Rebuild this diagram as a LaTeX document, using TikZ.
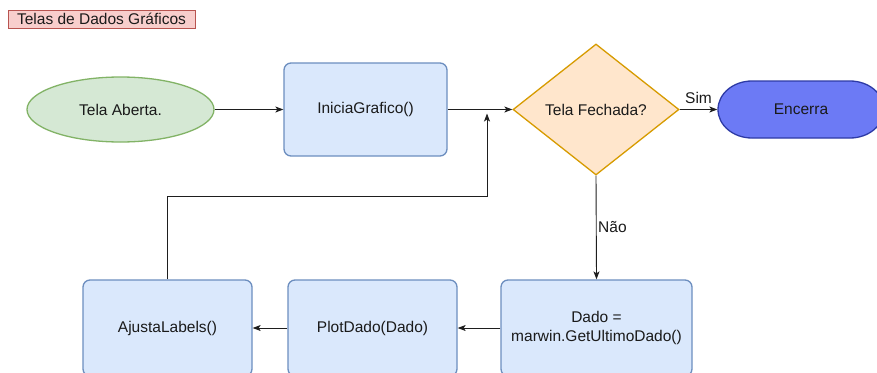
\documentclass[tikz,border=0pt]{standalone}
\usepackage{fontspec}
\setmainfont{Liberation Sans}
\usetikzlibrary{shapes.geometric,arrows.meta}

\definecolor{txt}{HTML}{1A1A1A}
\definecolor{lnk}{HTML}{1E1E1E}
\definecolor{tagfill}{HTML}{F8CECC}
\definecolor{tagdraw}{HTML}{B85450}
\definecolor{startfill}{HTML}{D5E8D4}
\definecolor{startdraw}{HTML}{82B366}
\definecolor{procfill}{HTML}{DAE8FC}
\definecolor{procdraw}{HTML}{6C8EBF}
\definecolor{decfill}{HTML}{FFE6CC}
\definecolor{decdraw}{HTML}{D79B00}
\definecolor{endfill}{HTML}{6C7AF5}
\definecolor{enddraw}{HTML}{2E3BA6}

\tikzset{
  base/.style={font=\fontsize{15.5}{19.5}\selectfont, text=txt, inner sep=0pt, line width=1.3pt},
  tag/.style={base, draw=tagdraw, fill=tagfill, line width=0.9pt, minimum width=187pt, minimum height=18pt},
  startnode/.style={base, ellipse, draw=startdraw, fill=startfill, minimum width=187pt, minimum height=65pt},
  procbox/.style={base, rectangle, rounded corners=7pt, draw=procdraw, fill=procfill, align=center},
  decision/.style={base, diamond, draw=decdraw, fill=decfill, minimum width=166pt, minimum height=131pt},
  endnode/.style={base, rectangle, minimum width=166pt, minimum height=57pt},
  endshape/.style={draw=enddraw, fill=endfill, line width=1.3pt},
  flow/.style={draw=lnk, line width=0.9pt, -{Stealth[length=8pt,width=6pt,inset=2pt]}},
  flowlabel/.style={font=\fontsize{15.5}{18}\selectfont, text=txt, inner sep=1.5pt}
}

\begin{document}
\begin{tikzpicture}[x=1pt, y=-1pt]
  \useasboundingbox (0,0) rectangle (877,372);

  % title tag
  \node[tag] (title) at (101.5,19) {Telas de Dados Gráficos};

  % top row
  \node[startnode] (start) at (120.5,109.5) {Tela Aberta.};
  \node[procbox, minimum width=163pt, minimum height=93pt] (inicia) at (365.5,109.5) {IniciaGrafico()};
  \node[decision] (fechada) at (596,109.5) {Tela Fechada?};

  % terminator with elliptical ends
  \draw[endshape] (752,81) -- (850,81)
    arc[start angle=90, end angle=-90, x radius=34pt, y radius=28.5pt]
    -- (752,138)
    arc[start angle=270, end angle=90, x radius=34pt, y radius=28.5pt] -- cycle;
  \node[endnode] (encerra) at (801,109.5) {Encerra};

  % bottom row
  \node[procbox, minimum width=191pt, minimum height=96pt] (dado) at (596.5,328) {Dado =\\marwin.GetUltimoDado()};
  \node[procbox, minimum width=169pt, minimum height=96pt] (plot) at (372.5,328) {PlotDado(Dado)};
  \node[procbox, minimum width=169pt, minimum height=96pt] (ajusta) at (167.5,328) {AjustaLabels()};

  % connectors
  \draw[flow] (start.east) -- (inicia.west);
  \draw[flow] (inicia.east) -- (fechada.west);
  \draw[flow] (fechada.east) -- node[flowlabel, above=4pt] {Sim} (encerra.west);
  \draw[flow] (fechada.south) -- node[flowlabel, right] {Não} (dado.north);
  \draw[flow] (dado.west) -- (plot.east);
  \draw[flow] (plot.west) -- (ajusta.east);

  % loop back into the decision
  \coordinate (loopcorner) at (487,196);
  \coordinate (loopend) at (487,113.5);
  \draw[flow] (ajusta.north) |- (loopcorner) -- (loopend);
\end{tikzpicture}
\end{document}
